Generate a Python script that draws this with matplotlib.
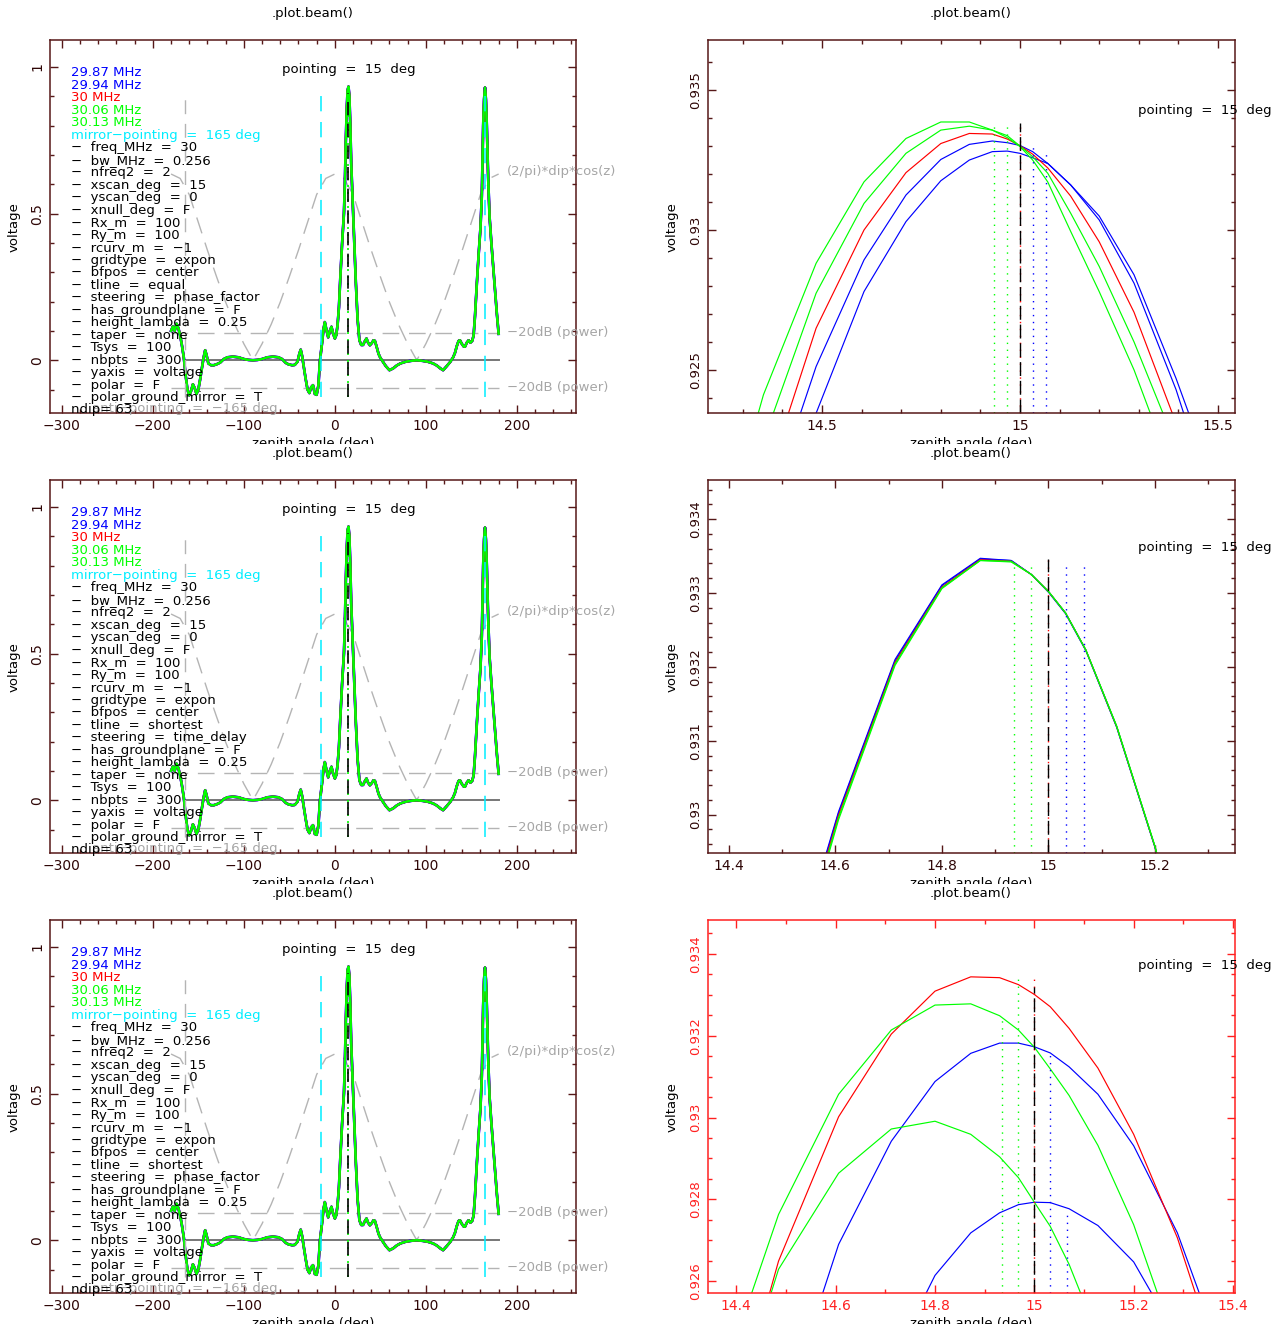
import matplotlib
matplotlib.use("Agg")
import matplotlib.pyplot as plt
from matplotlib.ticker import MultipleLocator, FuncFormatter
from matplotlib.transforms import Bbox

plt.rcParams["font.family"] = ["DejaVu Sans"]
plt.rcParams["font.size"] = 9.5

W, H = 1282, 1332
ROW_STEP = 440

# ---------------------------------------------------------------- data
FREQ_LABELS = ["29.87 MHz", "29.94 MHz", "30 MHz", "30.06 MHz", "30.13 MHz"]
FREQ_COLORS = ["#0000ff", "#0000ff", "#ff0000", "#00ff00", "#00ff00"]
FREQ_POINTING = [15.066, 15.032, 15.0, 14.968, 14.935]
POINTING_DEG = 15
MIRROR_DEG = 165
MIRROR_NEG_DEG = -15
ANTI_DEG = -165

# full-sky voltage beam (deg, voltage)
BEAM_ANGLE = [
    -180, -178, -176, -174, -172, -170, -168, -166, -164, -162, -160, -158,
    -156, -154, -152, -150, -148, -146, -144, -142.5, -141, -139, -136, -133,
    -130, -126, -122, -118, -112, -106, -100, -95, -90, -85, -80, -74, -68,
    -62, -58, -54, -51, -47, -44, -41, -39, -37.5, -36, -34, -32, -30, -28,
    -26, -24, -22, -20, -18, -16.5, -14, -12.5, -11, -9, -7.3, -5.5, -3.7,
    -2, 0, 1.5, 3, 4.5, 6, 8, 10, 11, 12, 13, 14, 15, 16, 17, 18, 19.5, 21,
    23, 25, 27, 29, 31, 33, 34.8, 36.5, 38.5, 40.5, 42.5, 44, 46, 48, 50, 53,
    56, 60, 64, 68, 72, 78, 84, 90, 96, 102, 108, 112, 116, 119, 123, 127,
    130, 132, 134, 136, 137.5, 139.5, 141.5, 143, 145, 147, 149, 151, 152.5,
    154, 156, 158, 160, 161.5, 163, 164, 165, 166, 167, 168.5, 170, 172, 174,
    176, 178, 180,
]
BEAM_VOLT = [
    0.100, 0.115, 0.100, 0.125, 0.110, 0.085, 0.050, 0.010, -0.050, -0.100,
    -0.120, -0.105, -0.082, -0.095, -0.115, -0.100, -0.065, -0.025, 0.012,
    0.034, 0.018, -0.011, -0.017, -0.017, -0.014, -0.008, 0.004, 0.010, 0.012,
    0.010, 0.004, 0.001, 0.000, 0.001, 0.004, 0.010, 0.012, 0.010, 0.004,
    -0.009, -0.014, -0.017, -0.016, -0.005, 0.022, 0.036, 0.015, -0.025,
    -0.065, -0.100, -0.112, -0.092, -0.085, -0.115, -0.118, -0.085, -0.005,
    0.060, 0.105, 0.130, 0.100, 0.078, 0.100, 0.114, 0.092, 0.074, 0.085,
    0.120, 0.180, 0.280, 0.400, 0.500, 0.600, 0.740, 0.850, 0.920, 0.933,
    0.900, 0.800, 0.670, 0.550, 0.430, 0.270, 0.140, 0.068, 0.052, 0.052,
    0.065, 0.074, 0.060, 0.051, 0.058, 0.068, 0.066, 0.045, 0.022, 0.008,
    -0.006, -0.020, -0.034, -0.028, -0.018, -0.011, -0.005, -0.002, 0.000,
    -0.002, -0.005, -0.011, -0.018, -0.028, -0.034, -0.020, -0.005, 0.010,
    0.025, 0.048, 0.066, 0.068, 0.056, 0.047, 0.046, 0.060, 0.068, 0.060,
    0.066, 0.085, 0.150, 0.260, 0.360, 0.450, 0.560, 0.800, 0.890, 0.930,
    0.890, 0.800, 0.620, 0.490, 0.400, 0.320, 0.240, 0.160, 0.090,
]

# dipole reference curve (2/pi)*dip*cos(z)
DIP_ANGLE = [-180, -170, -160, -150, -140, -130, -120, -110, -100, -90, -80,
             -70, -60, -50, -40, -30, -20, -10, 0, 10, 20, 30, 40, 50, 60, 70,
             80, 90, 100, 110, 120, 130, 140, 150, 160, 170, 180]
DIP_VALUE = [0.635, 0.620, 0.565, 0.470, 0.375, 0.285, 0.198, 0.122, 0.056,
             0.000, 0.056, 0.122, 0.198, 0.285, 0.375, 0.470, 0.565, 0.620,
             0.635, 0.620, 0.565, 0.470, 0.375, 0.285, 0.198, 0.122, 0.056,
             0.000, 0.056, 0.122, 0.198, 0.285, 0.375, 0.470, 0.565, 0.620,
             0.635]

# zoomed main-lobe samples (deg)
ZOOM_ANGLE = [14.210, 14.352, 14.485, 14.606, 14.712, 14.800, 14.872, 14.930,
              14.968, 15.000, 15.032, 15.070, 15.128, 15.200, 15.288, 15.394,
              15.515, 15.648]

# row 1: tline = equal, steering = phase_factor
EQ_2987 = [0.9095, 0.91750, 0.92345, 0.92780, 0.93030, 0.93176, 0.93250, 0.93280, 0.93282,
           0.93274, 0.93258, 0.93238, 0.93161, 0.93050, 0.92840, 0.92470, 0.92000, 0.91350]
EQ_2994 = [0.9115, 0.91950, 0.92512, 0.92893, 0.93125, 0.93252, 0.93306, 0.93318, 0.93312,
           0.93302, 0.93280, 0.93238, 0.93161, 0.93036, 0.92810, 0.92430, 0.91900, 0.91250]
EQ_3000 = [0.9133, 0.92070, 0.92649, 0.93000, 0.93205, 0.93309, 0.93345, 0.93343, 0.93325,
           0.93301, 0.93271, 0.93222, 0.93121, 0.92958, 0.92706, 0.92310, 0.91800, 0.91150]
EQ_3006 = [0.9150, 0.92246, 0.92774, 0.93095, 0.93274, 0.93357, 0.93371, 0.93357, 0.93337,
           0.93300, 0.93262, 0.93203, 0.93060, 0.92870, 0.92600, 0.92230, 0.91700, 0.91050]
EQ_3013 = [0.9170, 0.92411, 0.92881, 0.93172, 0.93327, 0.93386, 0.93386, 0.93357, 0.93330,
           0.93298, 0.93250, 0.93172, 0.92995, 0.92780, 0.92500, 0.92100, 0.91550, 0.90850]

# row 2: tline = shortest, steering = time_delay
TD_2987 = [0.92060, 0.92310, 0.92710, 0.93004, 0.93210, 0.93311, 0.93347, 0.93344, 0.93325,
           0.93301, 0.93272, 0.93222, 0.93118, 0.92955, 0.92699, 0.92300, 0.91800, 0.91150]
TD_2994 = [0.92055, 0.92305, 0.92705, 0.93002, 0.93208, 0.93310, 0.93346, 0.93344, 0.93325,
           0.93302, 0.93273, 0.93223, 0.93119, 0.92956, 0.92700, 0.92300, 0.91800, 0.91150]
TD_3000 = [0.92050, 0.92300, 0.92700, 0.92999, 0.93206, 0.93308, 0.93345, 0.93343, 0.93325,
           0.93302, 0.93273, 0.93223, 0.93119, 0.92956, 0.92700, 0.92300, 0.91800, 0.91150]
TD_3006 = [0.92045, 0.92295, 0.92695, 0.92996, 0.93204, 0.93307, 0.93344, 0.93343, 0.93325,
           0.93302, 0.93273, 0.93223, 0.93119, 0.92956, 0.92700, 0.92300, 0.91800, 0.91150]
TD_3013 = [0.92040, 0.92290, 0.92690, 0.92993, 0.93202, 0.93306, 0.93344, 0.93342, 0.93325,
           0.93302, 0.93273, 0.93223, 0.93120, 0.92957, 0.92701, 0.92300, 0.91800, 0.91150]

# row 3: tline = shortest, steering = phase_factor
SP_2987 = [0.9080, 0.91320, 0.91790, 0.92150, 0.92400, 0.92614, 0.92718, 0.92767, 0.92787,
           0.92793, 0.92792, 0.92777, 0.92736, 0.92647, 0.92461, 0.92150, 0.91700, 0.91100]
SP_2994 = [0.9085, 0.91570, 0.92240, 0.92690, 0.92942, 0.93088, 0.93157, 0.93182, 0.93182,
           0.93173, 0.93158, 0.93124, 0.93057, 0.92931, 0.92718, 0.92364, 0.91850, 0.91200]
SP_3000 = [0.9133, 0.92070, 0.92649, 0.93002, 0.93204, 0.93309, 0.93344, 0.93342, 0.93325,
           0.93301, 0.93271, 0.93218, 0.93121, 0.92959, 0.92706, 0.92310, 0.91800, 0.91150]
SP_3006 = [0.9165, 0.92290, 0.92763, 0.93057, 0.93214, 0.93275, 0.93278, 0.93249, 0.93214,
           0.93172, 0.93119, 0.93054, 0.92932, 0.92738, 0.92430, 0.91950, 0.91350, 0.90650]
SP_3013 = [0.9145, 0.92114, 0.92629, 0.92864, 0.92972, 0.92991, 0.92959, 0.92904, 0.92853,
           0.92793, 0.92734, 0.92641, 0.92465, 0.92220, 0.91850, 0.91400, 0.90850, 0.90200]

# top of each per-frequency pointing marker, and of the black pointing line
MARK_TOP_EQ = [0.93270, 0.93302, 0.93384, 0.93370, 0.93370]
MARK_TOP_TD = [0.93337, 0.93337, 0.93346, 0.93337, 0.93338]
MARK_TOP_SP = [0.92770, 0.93163, 0.93344, 0.93344, 0.93248]
BLACK_TOP = [0.93384, 0.93346, 0.93320]

PARAM_NAMES = ["freq_MHz", "bw_MHz", "nfreq2", "xscan_deg", "yscan_deg",
               "xnull_deg", "Rx_m", "Ry_m", "rcurv_m", "gridtype", "bfpos",
               "tline", "steering", "has_groundplane", "height_lambda", "taper",
               "Tsys", "nbpts", "yaxis", "polar", "polar_ground_mirror"]
PARAM_VALUES_EQ = ["30", "0.256", "2", "15", "0", "F", "100", "100", "\u22121",
                   "expon", "center", "equal", "phase_factor", "F", "0.25",
                   "none", "100", "300", "voltage", "F", "T"]
PARAM_VALUES_TD = ["30", "0.256", "2", "15", "0", "F", "100", "100", "\u22121",
                   "expon", "center", "shortest", "time_delay", "F", "0.25",
                   "none", "100", "300", "voltage", "F", "T"]
PARAM_VALUES_SP = ["30", "0.256", "2", "15", "0", "F", "100", "100", "\u22121",
                   "expon", "center", "shortest", "phase_factor", "F", "0.25",
                   "none", "100", "300", "voltage", "F", "T"]
NDIP = 63

# ---------------------------------------------------------------- styling
FRAME = "#561818"
TICKLAB = "#2e0606"
GRAY_LINE = "#777777"
GRAY_DASH = "#b4b4b4"
GRAY_TEXT = "#a6a6a6"
CYAN = "#00eeff"

fig = plt.figure(figsize=(W / 100, H / 100), dpi=100)
fig.patch.set_facecolor("white")


def fmt(v, _pos=None):
    s = "%g" % round(v, 6)
    if s == "-0":
        s = "0"
    return s.replace("-", "\u2212")


def px_axes(x0, y0, x1, y1):
    return fig.add_axes([x0 / W, 1 - y1 / H, (x1 - x0) / W, (y1 - y0) / H])


def fig_text(x, y, s, **kw):
    return fig.text(x / W, 1 - y / H, s, **kw)


def style_axes(ax, frame, labc, xmaj, xmin, ymaj, ymin, ylabsize=10):
    for sp in ax.spines.values():
        sp.set_color(frame)
        sp.set_linewidth(1.1)
    ax.xaxis.set_major_locator(MultipleLocator(xmaj))
    ax.xaxis.set_minor_locator(MultipleLocator(xmin))
    ax.yaxis.set_major_locator(MultipleLocator(ymaj))
    ax.yaxis.set_minor_locator(MultipleLocator(ymin))
    ax.xaxis.set_major_formatter(FuncFormatter(fmt))
    ax.yaxis.set_major_formatter(FuncFormatter(fmt))
    ax.tick_params(which="both", direction="in", top=True, right=True,
                   color=frame, width=1.0, labelcolor=labc, labelsize=10)
    ax.tick_params(which="major", length=5.5)
    ax.tick_params(which="minor", length=3.0)
    ax.tick_params(axis="x", pad=4)
    ax.tick_params(axis="y", pad=4, labelrotation=90, labelsize=ylabsize)
    for t in ax.yaxis.get_major_ticks():
        t.label1.set_va("center")


def panel_frame_text(xc, row, ylab_x):
    off = row * ROW_STEP
    fig_text(xc, 14 + off, ".plot.beam()", ha="center", va="center")
    fig_text(ylab_x, 227 + off, "voltage", ha="center", va="center", rotation=90)
    t = fig_text(xc, 437 + off, "zenith angle (deg)", ha="center", va="top")
    t.set_clip_box(Bbox.from_extents(0, H - (444 + off), W, H))
    t.set_clip_on(True)


def left_panel(row, values):
    off = row * ROW_STEP
    ax = px_axes(50, 40 + off, 576, 413 + off)
    ax.set_xlim(-313, 265)
    ax.set_ylim(-0.18, 1.092)
    style_axes(ax, FRAME, TICKLAB, 100, 20, 0.5, 0.1)

    peak = max(BEAM_VOLT)
    db20 = 0.1 * peak
    ax.plot(DIP_ANGLE, DIP_VALUE, color=GRAY_DASH, lw=1.0, dashes=(12, 7))
    for s in (1, -1):
        ax.plot([-180, 180], [s * db20, s * db20], color=GRAY_DASH, lw=1.0,
                dashes=(12, 7))
        ax.text(189, s * db20, "\u221220dB (power)", color=GRAY_TEXT,
                ha="left", va="center", clip_on=False)
    ax.text(189, 0.645, "(2/pi)*dip*cos(z)", color=GRAY_TEXT, ha="left",
            va="center", clip_on=False)
    ax.plot([ANTI_DEG, 180], [0, 0], color=GRAY_LINE, lw=1.4)

    widths = [1.9, 1.9, 1.7, 1.5, 1.5]
    for color, lw in zip(FREQ_COLORS, widths):
        ax.plot(BEAM_ANGLE, BEAM_VOLT, color=color, lw=lw)

    vbot, vtop = -0.125, 0.91
    ax.plot([ANTI_DEG] * 2, [vbot, vtop], color=GRAY_DASH, lw=1.0, dashes=(10, 7))
    ax.plot([MIRROR_NEG_DEG] * 2, [vbot, vtop], color=CYAN, lw=1.1, dashes=(10, 7))
    ax.plot([MIRROR_DEG] * 2, [vbot, vtop], color=CYAN, lw=1.1, dashes=(10, 7))
    ax.plot([POINTING_DEG] * 2, [vbot, vtop], color="#00ff00", lw=1.2,
            linestyle=(0, (1.2, 3)))
    ax.plot([POINTING_DEG] * 2, [vbot, vtop], color="black", lw=1.2,
            dashes=(8, 5))

    ax.text(POINTING_DEG, 0.99, "pointing  =  15  deg", ha="center",
            va="center", color="black")
    ax.text(ANTI_DEG, -0.164, "anti\u2212pointing  =  \u2212165 deg",
            ha="center", va="center", color=GRAY_TEXT, clip_on=False)

    lines = [(lab, c) for lab, c in zip(FREQ_LABELS, FREQ_COLORS)]
    lines.append(("mirror\u2212pointing  =  165 deg", CYAN))
    for name, val in zip(PARAM_NAMES, values):
        lines.append(("\u2212  %s  =  %s" % (name, val), "black"))
    for i, (s, c) in enumerate(lines):
        fig_text(71, 73 + 12.48 * i + off, s, color=c, ha="left", va="center")
    fig_text(71, 73 + 12.48 * len(lines) + off, "ndip= %d" % NDIP,
             color="black", ha="left", va="center")

    panel_frame_text(313, row, 14)


def right_panel(row, curves, tops, black_top, xlim, ylim, ticks, frame,
                labc, note_y):
    off = row * ROW_STEP
    ax = px_axes(708, 40 + off, 1235, 413 + off)
    ax.set_xlim(*xlim)
    ax.set_ylim(*ylim)
    style_axes(ax, frame, labc, *ticks, ylabsize=9.5)

    for vals, color in zip(curves, FREQ_COLORS):
        ax.plot(ZOOM_ANGLE, vals, color=color, lw=0.85)

    ybot = ylim[0]
    for x, top, color in zip(FREQ_POINTING, tops, FREQ_COLORS):
        ax.plot([x, x], [ybot, top], color=color, lw=1.0,
                linestyle=(0, (1, 4)))
    ax.plot([POINTING_DEG] * 2, [ybot, black_top], color="black", lw=1.0,
            dashes=(10, 3.5))

    ax.text(0.816, note_y, "pointing  =  15  deg", transform=ax.transAxes,
            ha="left", va="center", color="black", clip_on=False)
    panel_frame_text(971, row, 672)


left_panel(0, PARAM_VALUES_EQ)
left_panel(1, PARAM_VALUES_TD)
left_panel(2, PARAM_VALUES_SP)

right_panel(0, [EQ_2987, EQ_2994, EQ_3000, EQ_3006, EQ_3013], MARK_TOP_EQ,
            BLACK_TOP[0], (14.212, 15.543), (0.92346, 0.93679),
            (0.5, 0.1, 0.005, 0.001), FRAME, TICKLAB, 0.812)
right_panel(1, [TD_2987, TD_2994, TD_3000, TD_3006, TD_3013], MARK_TOP_TD,
            BLACK_TOP[1], (14.361, 15.350), (0.92948, 0.93453),
            (0.2, 0.1, 0.001, 0.0002), FRAME, TICKLAB, 0.820)
right_panel(2, [SP_2987, SP_2994, SP_3000, SP_3006, SP_3013], MARK_TOP_SP,
            BLACK_TOP[2], (14.343, 15.404), (0.92571, 0.93483),
            (0.2, 0.1, 0.002, 0.0005), "#ff2020", "#ff2020", 0.879)

fig.savefig("out.png", dpi=100, facecolor="white")
